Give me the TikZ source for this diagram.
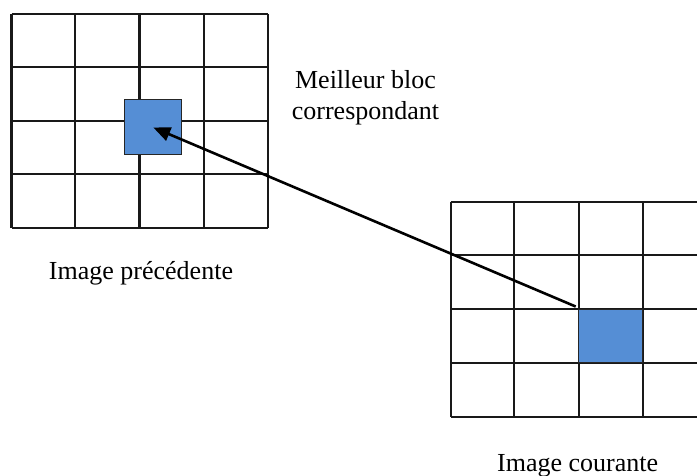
\documentclass[tikz,border=0pt]{standalone}
\usepackage{fontspec}
\setmainfont{Liberation Serif}
\usetikzlibrary{arrows.meta}
\definecolor{blockblue}{HTML}{558ED5}
\tikzset{
  gridline/.style={line width=2.1pt, black!90},
  block/.style={draw=black!85, line width=1pt, fill=blockblue, inner sep=0pt},
  caption/.style={font=\fontsize{26}{31}\selectfont, align=center, inner sep=0pt},
  motion/.style={line width=2.6pt, -{Triangle[length=17pt,width=14pt]}}
}
\begin{document}
\begin{tikzpicture}[x=1pt, y=-1pt]
  \useasboundingbox (0,0) rectangle (697,476);
  \clip (0,0) rectangle (697,476);
  % previous frame: 4 x 4 grid
  \foreach \x in {11.5,75,139.5,204,268} \draw[gridline] (\x,14) -- (\x,228);
  \foreach \y in {14,67,121,174,228} \draw[gridline] (11.5,\y) -- (268,\y);
  % current frame: 4 x 4 grid, running past the right edge
  \foreach \x in {450.7,514.3,578.7,642.7,706.7} \draw[gridline] (\x,201.7) -- (\x,416.7);
  \foreach \y in {201.7,255,309,362.7,416.7} \draw[gridline] (450.7,\y) -- (706.7,\y);
  % best matching block and current block
  \node[block, minimum width=56.7pt, minimum height=55pt] (best) at (153.3,127.5) {};
  \node[block, minimum width=64pt, minimum height=53.7pt] (cur) at (610.7,335.9) {};
  % motion vector
  \draw[motion] (cur.north west) ++(-2.5,-2) coordinate (start) (start) -- (best.center);
  % labels
  \node[caption, anchor=base] (lblbest) at (365.5,120) {Meilleur bloc\\correspondant};
  \node[caption, anchor=base] (lblprev) at (141,279.5) {Image précédente};
  \node[caption, anchor=base] (lblcur) at (577.7,471) {Image courante};
\end{tikzpicture}
\end{document}
